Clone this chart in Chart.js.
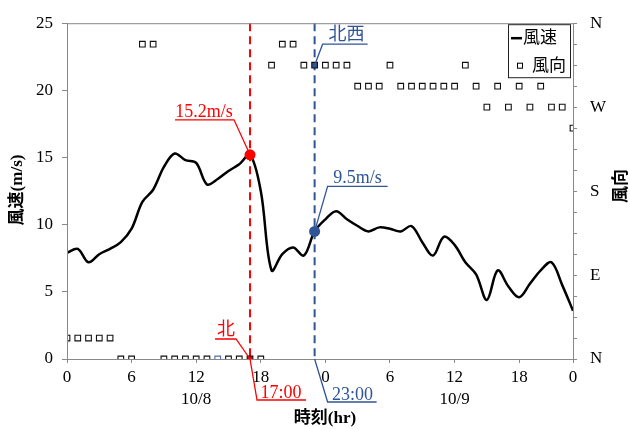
<!DOCTYPE html>
<html>
<head>
<meta charset="utf-8">
<script src="https://cdn.jsdelivr.net/npm/chart.js@4"></script>
<style>
  body { margin: 0; background: #fff; }
  canvas { display: block; }
</style>
</head>
<body>
<canvas id="chart" width="630" height="429"></canvas>
<script>
// hours since 10/8 0:00
var hours = [0, 1, 2, 3, 4, 5, 6, 7, 8, 9, 10, 11, 12, 13, 14, 15, 16, 17, 18, 19, 20, 21, 22, 23,
  24, 25, 26, 27, 28, 29, 30, 31, 32, 33, 34, 35, 36, 37, 38, 39, 40, 41, 42, 43, 44, 45, 46, 47];
// wind speed (m/s)
var speed = [7.9, 8.2, 7.2, 7.8, 8.2, 8.7, 9.7, 11.7, 12.6, 14.3, 15.3, 14.8, 14.6, 13.0, 13.4, 14.0, 14.5, 15.2, 12.5, 6.6, 7.8, 8.3, 7.7, 9.5,
  10.4, 11.0, 10.4, 9.9, 9.5, 9.8, 9.7, 9.5, 9.9, 8.7, 7.7, 9.1, 8.5, 7.2, 6.3, 4.4, 6.6, 5.4, 4.6, 5.6, 6.6, 7.2, 5.5, 3.6];
// wind direction (16 points)
var direction = ['NNE', 'NNE', 'NNE', 'NNE', 'NNE', 'N', 'N', 'NNW', 'NNW', 'N', 'N', 'N', 'N', 'N', 'N', 'N', 'N', 'N', 'N', 'NW', 'NNW', 'NNW', 'NW', 'NW',
  'NW', 'NW', 'NW', 'WNW', 'WNW', 'WNW', 'NW', 'WNW', 'WNW', 'WNW', 'WNW', 'WNW', 'WNW', 'NW', 'WNW', 'W', 'WNW', 'W', 'WNW', 'W', 'WNW', 'W', 'W', 'WSW'];
var compass = ['N', 'NNE', 'NE', 'ENE', 'E', 'ESE', 'SE', 'SSE', 'S', 'SSW', 'SW', 'WSW', 'W', 'WNW', 'NW', 'NNW'];
var dirNames = { 'N': '北', 'NW': '北西' };

var xTickHours = [0, 6, 12, 18, 24, 30, 36, 42, 47];
var xTickLabels = ['0', '6', '12', '18', '0', '6', '12', '18', '0'];
var dayLabels = { 12: '10/8', 36: '10/9' };
var dirTickLabels = { 0: 'N', 90: 'E', 180: 'S', 270: 'W', 360: 'N' };

var redHour = 17;
var blueHour = 23;
var RED = '#ff0000';
var BLUE = '#2f5597';
var SERIF = "'Liberation Serif', 'Times New Roman', serif";
var CJK = "'Liberation Serif', 'Noto Sans CJK JP', sans-serif";

var speedPoints = [];
var dirPoints = [];
for (var i = 0; i < hours.length; i++) {
  speedPoints.push({ x: hours[i], y: speed[i] });
  dirPoints.push({ x: hours[i], y: compass.indexOf(direction[i]) * 22.5 });
}

function hl(idx, normal, red, blue) {
  if (hours[idx] == redHour) return red;
  if (hours[idx] == blueHour) return blue;
  return normal;
}

function leader(ctx, color, pts) {
  ctx.strokeStyle = color;
  ctx.lineWidth = 1.3;
  ctx.setLineDash([]);
  ctx.beginPath();
  ctx.moveTo(pts[0][0], pts[0][1]);
  for (var k = 1; k < pts.length; k++) ctx.lineTo(pts[k][0], pts[k][1]);
  ctx.stroke();
}

function label(ctx, color, font, text, x, y) {
  ctx.fillStyle = color;
  ctx.font = font;
  ctx.textAlign = 'center';
  ctx.textBaseline = 'alphabetic';
  ctx.fillText(text, x, y);
}

var notes = {
  id: 'notes',
  beforeDatasetsDraw: function(chart) {
    var ctx = chart.ctx, a = chart.chartArea, xs = chart.scales.x;
    ctx.save();
    ctx.lineWidth = 2;
    ctx.setLineDash([8, 5]);
    [[redHour, RED], [blueHour, BLUE]].forEach(function(v) {
      var px = xs.getPixelForValue(v[0]);
      ctx.strokeStyle = v[1];
      ctx.beginPath();
      ctx.moveTo(px, a.top);
      ctx.lineTo(px, a.bottom);
      ctx.stroke();
    });
    ctx.restore();
  },
  afterDatasetsDraw: function(chart) {
    var ctx = chart.ctx, a = chart.chartArea;
    var xs = chart.scales.x, ys = chart.scales.y, y2 = chart.scales.y2;
    ctx.save();
    // frame
    ctx.strokeStyle = '#888';
    ctx.lineWidth = 1;
    ctx.strokeRect(a.left + 0.5, a.top + 0.5, a.right - a.left, a.bottom - a.top);

    var ri = hours.indexOf(redHour), bi = hours.indexOf(blueHour);
    var rx = xs.getPixelForValue(redHour), bx = xs.getPixelForValue(blueHour);
    var big = '18px ' + SERIF;
    var cjk = '18px ' + CJK;

    // red: speed at 17:00
    var ry = ys.getPixelForValue(speed[ri]);
    leader(ctx, RED, [[rx, ry], [rx - 16, ry - 35], [rx - 75, ry - 35]]);
    label(ctx, RED, big, speed[ri] + 'm/s', rx - 46, ry - 38);
    // red: direction at 17:00
    var rdy = y2.getPixelForValue(dirPoints[ri].y);
    leader(ctx, RED, [[rx, rdy], [rx - 14, rdy - 20], [rx - 35, rdy - 20]]);
    label(ctx, RED, cjk, dirNames[direction[ri]], rx - 24, rdy - 24);
    // red: time
    leader(ctx, RED, [[rx, a.bottom], [rx + 7, a.bottom + 41], [rx + 56, a.bottom + 41]]);
    label(ctx, RED, big, redHour + ':00', rx + 31, a.bottom + 39);

    // blue: speed at 23:00
    var by = ys.getPixelForValue(speed[bi]);
    leader(ctx, BLUE, [[bx, by], [bx + 13, by - 45], [bx + 73, by - 45]]);
    label(ctx, BLUE, big, speed[bi] + 'm/s', bx + 43, by - 48);
    // blue: direction at 23:00
    var bdy = y2.getPixelForValue(dirPoints[bi].y);
    leader(ctx, BLUE, [[bx, bdy], [bx + 8, bdy - 21], [bx + 53, bdy - 21]]);
    label(ctx, BLUE, cjk, dirNames[direction[bi]], bx + 32, bdy - 25);
    // blue: time
    leader(ctx, BLUE, [[bx, a.bottom], [bx + 13, a.bottom + 43], [bx + 62, a.bottom + 43]]);
    label(ctx, BLUE, big, blueHour + ':00', bx + 38, a.bottom + 41);

    // legend
    var lx = a.right - 65, ly = a.top + 1;
    ctx.fillStyle = '#fff';
    ctx.fillRect(lx, ly, 62, 53);
    ctx.strokeStyle = '#222';
    ctx.lineWidth = 1;
    ctx.strokeRect(lx + 0.5, ly + 0.5, 62, 53);
    ctx.strokeStyle = '#000';
    ctx.lineWidth = 2.5;
    ctx.beginPath();
    ctx.moveTo(lx + 3, ly + 14);
    ctx.lineTo(lx + 14, ly + 14);
    ctx.stroke();
    ctx.lineWidth = 1;
    ctx.fillStyle = '#fff';
    ctx.fillRect(lx + 9.5, ly + 39, 5, 5);
    ctx.strokeRect(lx + 9.5, ly + 39, 5, 5);
    ctx.fillStyle = '#000';
    ctx.font = '17px ' + CJK;
    ctx.textAlign = 'left';
    ctx.textBaseline = 'middle';
    ctx.fillText('風速', lx + 15, ly + 14);
    ctx.fillText('風向', lx + 24, ly + 42);

    // axis titles
    ctx.font = 'bold 17px ' + CJK;
    ctx.textAlign = 'center';
    ctx.fillText('時刻(hr)', (a.left + a.right) / 2 + 5, 419);
    ctx.save();
    ctx.translate(18, 190);
    ctx.rotate(-Math.PI / 2);
    ctx.fillText('風速(m/s)', 0, 0);
    ctx.restore();
    ctx.save();
    ctx.translate(622, 186);
    ctx.rotate(-Math.PI / 2);
    ctx.fillText('風向', 0, 0);
    ctx.restore();
    ctx.restore();
  }
};

new Chart(document.getElementById('chart').getContext('2d'), {
  type: 'scatter',
  data: {
    datasets: [{
      label: '風速',
      type: 'line',
      data: speedPoints,
      yAxisID: 'y',
      borderColor: '#000',
      borderWidth: 2.5,
      tension: 0.35,
      fill: false,
      pointRadius: function(c) { return hl(c.dataIndex, 0, 5.5, 5.5); },
      pointBackgroundColor: function(c) { return hl(c.dataIndex, '#000', RED, BLUE); },
      pointBorderColor: function(c) { return hl(c.dataIndex, '#000', RED, BLUE); },
      pointBorderWidth: 0,
      order: 2
    }, {
      label: '風向',
      data: dirPoints,
      yAxisID: 'y2',
      pointStyle: 'rect',
      pointRadius: 4,
      pointBorderWidth: 1.1,
      pointBorderColor: function(c) { return hours[c.dataIndex] == 14 ? '#4a6fa8' : '#111'; },
      pointBackgroundColor: function(c) { return hl(c.dataIndex, '#fff', RED, BLUE); },
      order: 1
    }]
  },
  options: {
    responsive: false,
    devicePixelRatio: 1,
    animation: false,
    layout: { padding: { top: 18, left: 0, right: 0, bottom: 0 } },
    plugins: { legend: { display: false }, tooltip: { enabled: false } },
    scales: {
      x: {
        type: 'linear',
        min: 0,
        max: 47,
        afterFit: function(s) { s.height = 70; },
        afterBuildTicks: function(s) {
          s.ticks = xTickHours.map(function(v) { return { value: v }; });
        },
        border: { color: '#888', width: 1 },
        grid: { drawOnChartArea: false, tickLength: 4, color: '#888' },
        ticks: {
          autoSkip: false,
          maxRotation: 0,
          padding: 3,
          color: '#000',
          font: { family: SERIF, size: 17, lineHeight: 1.3 },
          callback: function(v) {
            var k = xTickHours.indexOf(v);
            if (k < 0) return '';
            return dayLabels[v] ? [xTickLabels[k], dayLabels[v]] : xTickLabels[k];
          }
        }
      },
      y: {
        position: 'left',
        min: 0,
        max: 25,
        afterFit: function(s) { s.width = 67; },
        border: { color: '#888', width: 1 },
        grid: { drawOnChartArea: false, tickLength: 5, color: '#888' },
        ticks: { stepSize: 5, padding: 9, color: '#000', font: { family: SERIF, size: 17 } }
      },
      y2: {
        position: 'right',
        min: 0,
        max: 360,
        afterFit: function(s) { s.width = 57; },
        border: { color: '#888', width: 1 },
        grid: { drawOnChartArea: false, tickLength: 4, color: '#888' },
        ticks: {
          stepSize: 22.5,
          autoSkip: false,
          padding: 13,
          color: '#000',
          font: { family: SERIF, size: 17 },
          callback: function(v) { return dirTickLabels[v] || ''; }
        }
      }
    }
  },
  plugins: [notes]
});
</script>
</body>
</html>
